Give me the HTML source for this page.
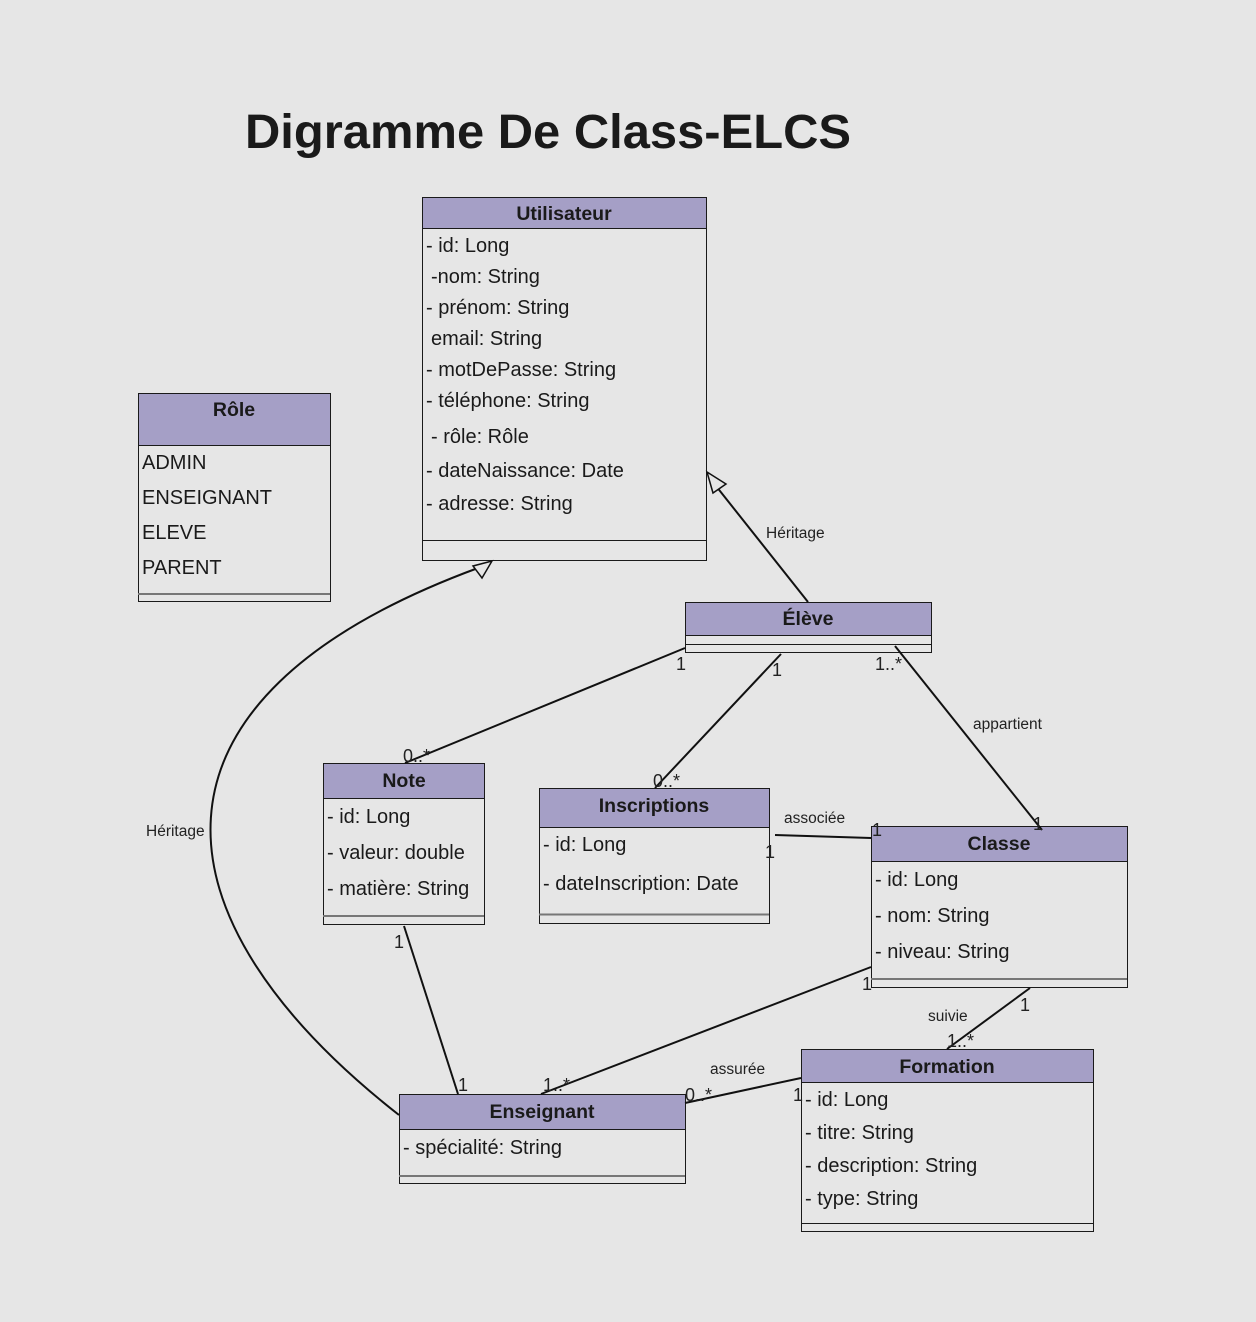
<!DOCTYPE html>
<html><head><meta charset="utf-8"><style>
html,body{margin:0;padding:0;background:#e6e6e6;}
svg{display:block;font-family:"Liberation Sans",Arial,sans-serif;}
</style></head><body>
<svg width="1256" height="1322" viewBox="0 0 1256 1322" xmlns="http://www.w3.org/2000/svg">
<rect width="1256" height="1322" fill="#e6e6e6"/>
<text x="245" y="148" font-size="48" font-weight="bold" fill="#1a1a1a" textLength="606" lengthAdjust="spacingAndGlyphs">Digramme De Class-ELCS</text>

<g stroke="#1a1a1a" stroke-width="1">
<rect x="422.5" y="197.5" width="284" height="363" fill="#e6e6e6"/>
<rect x="422.5" y="197.5" width="284" height="31" fill="#a59fc6"/>
<line x1="422" y1="540.5" x2="706" y2="540.5"/>
<rect x="138.5" y="393.5" width="192" height="208" fill="#e6e6e6"/>
<rect x="138.5" y="393.5" width="192" height="52" fill="#a59fc6"/>
<line x1="138" y1="594" x2="330" y2="594" stroke="#777" stroke-width="2"/>
<rect x="685.5" y="602.5" width="246" height="50" fill="#e6e6e6"/>
<rect x="685.5" y="602.5" width="246" height="33" fill="#a59fc6"/>
<line x1="685" y1="644.5" x2="931" y2="644.5"/>
<rect x="323.5" y="763.5" width="161" height="161" fill="#e6e6e6"/>
<rect x="323.5" y="763.5" width="161" height="35" fill="#a59fc6"/>
<line x1="323" y1="916" x2="484" y2="916" stroke="#777" stroke-width="2"/>
<rect x="539.5" y="788.5" width="230" height="135" fill="#e6e6e6"/>
<rect x="539.5" y="788.5" width="230" height="39" fill="#a59fc6"/>
<line x1="539" y1="914.5" x2="769" y2="914.5" stroke="#777" stroke-width="2"/>
<rect x="871.5" y="826.5" width="256" height="161" fill="#e6e6e6"/>
<rect x="871.5" y="826.5" width="256" height="35" fill="#a59fc6"/>
<line x1="871" y1="979" x2="1127" y2="979" stroke="#777" stroke-width="2"/>
<rect x="399.5" y="1094.5" width="286" height="89" fill="#e6e6e6"/>
<rect x="399.5" y="1094.5" width="286" height="35" fill="#a59fc6"/>
<line x1="399" y1="1176" x2="685" y2="1176" stroke="#777" stroke-width="2"/>
<rect x="801.5" y="1049.5" width="292" height="182" fill="#e6e6e6"/>
<rect x="801.5" y="1049.5" width="292" height="33" fill="#a59fc6"/>
<line x1="801" y1="1223.5" x2="1093" y2="1223.5"/>
</g>

<g stroke="#111" stroke-width="2" fill="none">
<line x1="808" y1="602" x2="716" y2="486"/>
<path d="M399,1115 C150,920 120,700 478,568"/>
<line x1="685" y1="648" x2="405" y2="763"/>
<line x1="781" y1="654" x2="655" y2="788"/>
<line x1="895" y1="646" x2="1042" y2="830"/>
<line x1="775" y1="835" x2="871" y2="838"/>
<line x1="404" y1="926" x2="458" y2="1094"/>
<line x1="871" y1="967" x2="541" y2="1094"/>
<line x1="1030" y1="988" x2="947" y2="1049"/>
<line x1="685" y1="1103" x2="801" y2="1078"/>
</g>
<g stroke="#111" stroke-width="1.5" fill="#e6e6e6">
<polygon points="707,472 726,484 713,493"/>
<polygon points="492,561 473,566 482,578"/>
</g>

<g font-size="15.5" fill="#222">
<text x="766" y="538">Héritage</text>
<text x="146" y="836">Héritage</text>
<text x="973" y="729">appartient</text>
<text x="784" y="823">associée</text>
<text x="928" y="1021">suivie</text>
<text x="710" y="1074">assurée</text>
</g>
<g font-size="18" fill="#222">
<text x="676" y="670">1</text>
<text x="772" y="676">1</text>
<text x="875" y="670">1..*</text>
<text x="403" y="762">0..*</text>
<text x="653" y="787">0..*</text>
<text x="872" y="836">1</text>
<text x="1033" y="830">1</text>
<text x="765" y="858">1</text>
<text x="394" y="948">1</text>
<text x="458" y="1091">1</text>
<text x="543" y="1091">1..*</text>
<text x="862" y="990">1</text>
<text x="1020" y="1011">1</text>
<text x="947" y="1047">1..*</text>
<text x="685" y="1101">0..*</text>
<text x="793" y="1101">1</text>
</g>

<g font-size="19.5" font-weight="bold" fill="#1a1a1a" text-anchor="middle">
<text x="564" y="220">Utilisateur</text>
<text x="234" y="416">Rôle</text>
<text x="808" y="625">Élève</text>
<text x="404" y="787">Note</text>
<text x="654" y="812">Inscriptions</text>
<text x="999" y="850">Classe</text>
<text x="542" y="1118">Enseignant</text>
<text x="947" y="1073">Formation</text>
</g>

<g font-size="20" fill="#1a1a1a">
<text x="426" y="252">- id: Long</text>
<text x="431" y="283">-nom: String</text>
<text x="426" y="314">- prénom: String</text>
<text x="431" y="345">email: String</text>
<text x="426" y="376">- motDePasse: String</text>
<text x="426" y="407">- téléphone: String</text>
<text x="431" y="443">- rôle: Rôle</text>
<text x="426" y="477">- dateNaissance: Date</text>
<text x="426" y="510">- adresse: String</text>

<text x="142" y="469">ADMIN</text>
<text x="142" y="504">ENSEIGNANT</text>
<text x="142" y="539">ELEVE</text>
<text x="142" y="574">PARENT</text>

<text x="327" y="823">- id: Long</text>
<text x="327" y="859">- valeur: double</text>
<text x="327" y="895">- matière: String</text>

<text x="543" y="851">- id: Long</text>
<text x="543" y="890">- dateInscription: Date</text>

<text x="875" y="886">- id: Long</text>
<text x="875" y="922">- nom: String</text>
<text x="875" y="958">- niveau: String</text>

<text x="403" y="1154">- spécialité: String</text>

<text x="805" y="1106">- id: Long</text>
<text x="805" y="1139">- titre: String</text>
<text x="805" y="1172">- description: String</text>
<text x="805" y="1205">- type: String</text>
</g>
</svg>
</body></html>
